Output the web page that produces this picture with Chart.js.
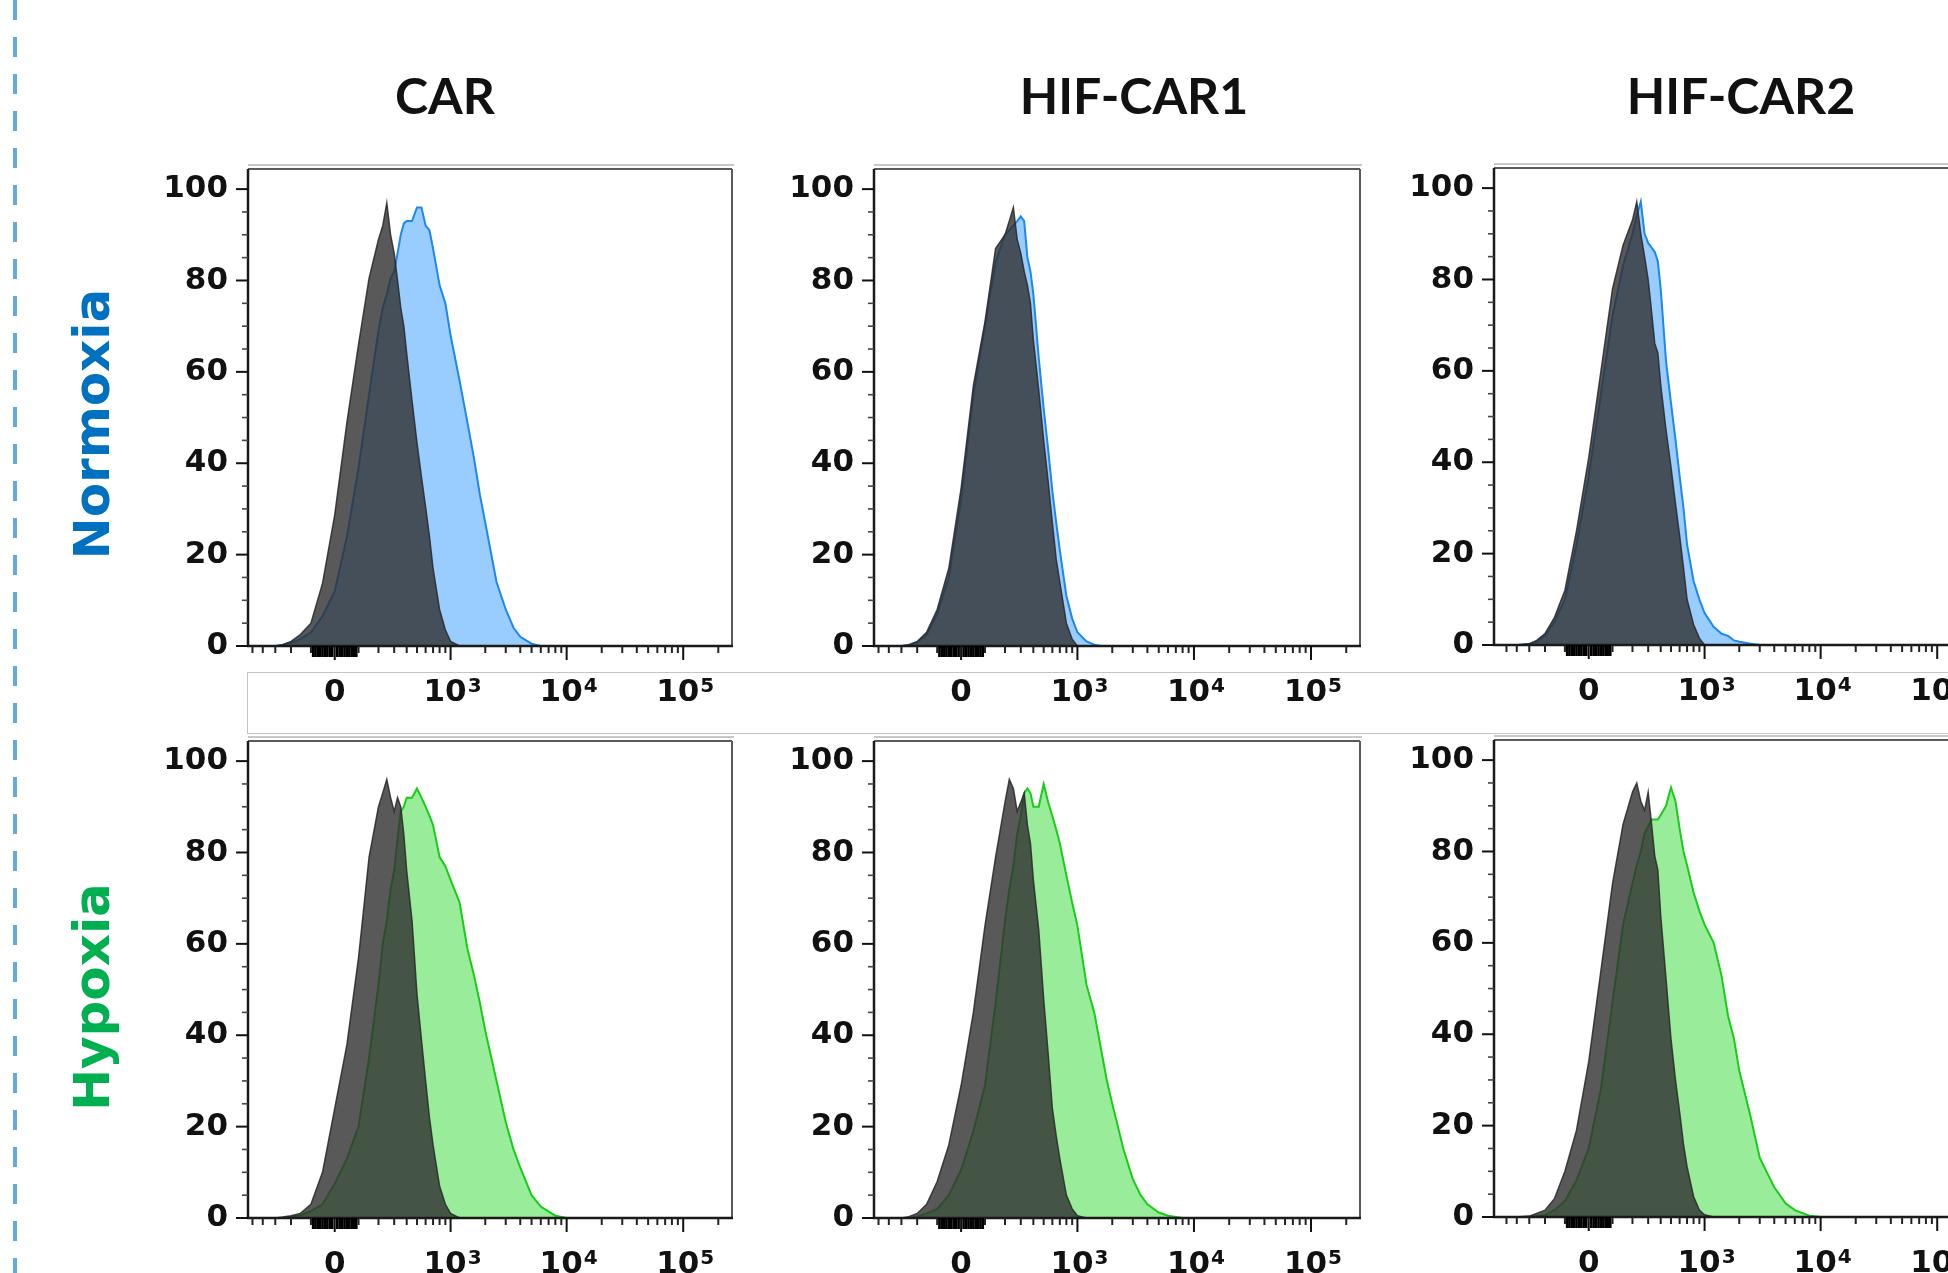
<!DOCTYPE html>
<html>
<head>
<meta charset="utf-8">
<script src="https://cdn.jsdelivr.net/npm/chart.js@4.4.1/dist/chart.umd.min.js"></script>
<style>
html,body{margin:0;padding:0;background:#fff;width:1948px;height:1273px;overflow:hidden;position:relative;}
canvas{position:absolute;}
.title{position:absolute;font-family:Lato,sans-serif;font-weight:700;font-size:50px;line-height:1;white-space:nowrap;color:#111;transform:translateX(-50%);}
.rowlab{position:absolute;font-family:'DejaVu Sans',sans-serif;font-weight:700;font-size:50px;line-height:50px;width:400px;height:50px;text-align:center;white-space:nowrap;transform:rotate(-90deg);}
#dash{position:absolute;left:13px;top:0;width:4px;height:1273px;background:repeating-linear-gradient(to bottom,#62a9df 0px,#62a9df 20px,transparent 20px,transparent 37px);}
#frame{position:absolute;left:247px;top:672px;width:1800px;height:60px;border:1.5px solid #c4c4c4;}
</style>
</head>
<body>
<div id="dash"></div>
<div id="frame"></div>
<div class="title" style="left:445px;top:70px;">CAR</div>
<div class="title" style="left:1134px;top:70px;">HIF-CAR1</div>
<div class="title" style="left:1741px;top:70px;">HIF-CAR2</div>
<div class="rowlab" style="left:-108px;top:399px;color:#0070C0;">Normoxia</div>
<div class="rowlab" style="left:-108px;top:972px;color:#00B050;">Hypoxia</div>

<script>
// ---------------- data ----------------
// histogram bin positions (fluorescence intensity, biexponential display)
const bins = [-600, -500, -400, -300, -250, -200, -150, -100, -50, 0, 50, 100, 150, 200, 225, 250, 275, 300, 325, 350, 375, 400, 450, 500, 550, 600, 650, 700, 800, 900, 1000, 1200, 1400, 1600, 1800, 2000, 2500, 3000, 3500, 4000, 5000, 6000, 8000, 10000, 300000];

// Normoxia (gray = control, blue = stained)
const carNormGray  = [0,0,0,0,0.3,1,2.5,5,13.7,28.7,49,66,80.5,89,92,97,90,86,80,74,70,64,53.6,44.5,37,30.4,24,17,8,3.5,1,0,0,0,0,0,0,0,0,0,0,0,0,0,0];
const carNormBlue  = [0,0,0,0,0.3,0.7,1.5,3,6.5,12,24,39,55,69,74,77,80.5,82,86,90,92.5,93,93,96,96,92,91,87,79,75,68,58,49,41,33,27,14,8,4,2,0.5,0,0,0,0];
const hif1NormGray = [0,0,0,0,0.3,1,3,8,17,34.5,57,71,87,90,93,96,89,86,82,79,75,67,56,45,36,27,19,14,5,1.5,0,0,0,0,0,0,0,0,0,0,0,0,0,0,0];
const hif1NormBlue = [0,0,0,0,0.2,0.8,2.5,7,15,32,55,70,84,90,91,92,93,94,93,85,82,77,63,52,43,34,27,21,11,6,3,1,0.3,0,0,0,0,0,0,0,0,0,0,0,0];
const hif2NormGray = [0,0,0,0.3,1,2.5,6,12,25,41,60,78,87.5,93,97,90,85,80,73,66,64,57,47,39,31,24,17,10,4.5,1.5,0,0,0,0,0,0,0,0,0,0,0,0,0,0,0];
const hif2NormBlue = [0,0,0,0.2,0.7,2,5,10,22,37,55,72,83,90,94,97,90,88,87,86,84,78,62,53,45,37,30,22,14,10,7,4,2.5,2,1,0.7,0.3,0,0,0,0,0,0,0,0];

// Hypoxia (gray = control, green = stained)
const carHypGray   = [0,0,0,0,0.2,0.5,1,3,10,24,38,57,79,90,93,96,92,89,92,90,84,76,65,49,39,30,22,16,7,3,1,0,0,0,0,0,0,0,0,0,0,0,0,0,0];
const carHypGreen  = [0,0,0,0,0,0.2,0.6,1.5,3,7.5,13,20,35,51,60,65,72,76,83,89,90,92,92,94,92,90,88,86,79,77,74,69,59,53,47,41,30,21,15,11,5,2.5,0.5,0,0];
const hif1HypGray  = [0,0,0,0,0.3,1,3,8,16,29,45,64,79,91,96,94,89,91,93,86,82,74,63,48,36,24,18,13,5,2,0.5,0,0,0,0,0,0,0,0,0,0,0,0,0,0];
const hif1HypGreen = [0,0,0,0,0,0.3,1,2,5,10.5,19,29,47,65,72,77,84,88,93,94,93,90,90,95,91,88,85,82,75,69,64,51,45,37,30,25,15,8.5,5,3,1.2,0.5,0,0,0];
const hif2HypGray  = [0,0,0,0.2,0.8,1.5,4,10,19,34,54,73,86,93,95,91,89,93,86,79,76,66,52,39,30,23,16,11,4.5,1.5,0.5,0,0,0,0,0,0,0,0,0,0,0,0,0,0];
const hif2HypGreen = [0,0,0,0,0.2,0.4,1.5,3.5,8,15,28,47,64,73,77,80,84,85.5,87,87,87,88,90,94,91,85,80,77,71,67,64,60,53,44,39,32,22,13,9.5,6.5,3,1.5,0.3,0,0];

// axis ticks
const xTickValues = [0, 1000, 10000, 100000];
const xTickBase   = ['0', '10', '10', '10'];
const xTickExp    = ['', '3', '4', '5'];
const xMinorTicks = [-500,-400,-300,-200,-100,-90,-80,-70,-60,-50,-40,-30,-20,-10,10,20,30,40,50,60,70,80,90,100,200,300,400,500,600,700,800,900,2000,3000,4000,5000,6000,7000,8000,9000,20000,30000,40000,50000,60000,70000,80000,90000,200000];
const yTickValues = [0, 20, 40, 60, 80, 100];
const yMinorTicks = [5,10,15,25,30,35,45,50,55,65,70,75,85,90,95];

// ---------------- biexponential (arcsinh) scale ----------------
const BIEX_W = 205;
const fwd = v => Math.asinh(v / BIEX_W);
class BiexScale extends Chart.LinearScale {
  determineDataLimits() {
    this.min = this.options.min;
    this.max = this.options.max;
  }
  buildTicks() {
    return xTickValues.map(v => ({ value: v }));
  }
  getPixelForValue(value) {
    const t0 = fwd(this.min), t1 = fwd(this.max);
    return this.getPixelForDecimal((fwd(value) - t0) / (t1 - t0));
  }
  getValueForPixel(pixel) {
    const t0 = fwd(this.min), t1 = fwd(this.max);
    const d = this.getDecimalForPixel(pixel);
    return BIEX_W * Math.sinh(t0 + d * (t1 - t0));
  }
}
BiexScale.id = 'biex';
BiexScale.defaults = {};
Chart.register(BiexScale);

const LABEL_FAMILY = '"DejaVu Sans", sans-serif';

// ---------------- frame + tick marks + x labels plugin ----------------
const frameTicks = {
  id: 'frameTicks',
  afterDatasetsDraw(chart) {
    const { ctx, chartArea: a, scales: { x, y } } = chart;
    const ln = (x1, y1, x2, y2) => { ctx.beginPath(); ctx.moveTo(x1, y1); ctx.lineTo(x2, y2); ctx.stroke(); };
    ctx.save();
    // light image-frame line above the plot
    ctx.strokeStyle = '#c8c8c8'; ctx.lineWidth = 2;
    ln(a.left, a.top - 4, a.right + 2, a.top - 4);
    // top & right frame
    ctx.strokeStyle = '#5a5a5a'; ctx.lineWidth = 2;
    ln(a.left, a.top, a.right, a.top);
    ln(a.right, a.top, a.right, a.bottom);
    // axes
    ctx.strokeStyle = '#1a1a1a'; ctx.lineWidth = 2.5;
    ln(a.left, a.top, a.left, a.bottom + 1);
    ln(a.left - 1, a.bottom, a.right + 1, a.bottom);
    // x ticks
    xMinorTicks.forEach(v => {
      const px = x.getPixelForValue(v);
      if (px < a.left - 0.5 || px > a.right + 0.5) return;
      const near = Math.abs(v) < 100;
      ctx.lineWidth = near ? 2.6 : 2;
      ctx.strokeStyle = near ? '#000' : '#222';
      ln(px, a.bottom, px, a.bottom + (near ? 11 : 7));
    });
    ctx.lineWidth = 2; ctx.strokeStyle = '#111';
    xTickValues.forEach(v => {
      const px = x.getPixelForValue(v);
      ln(px, a.bottom, px, a.bottom + 14);
    });
    // y ticks
    yTickValues.forEach(v => { const py = y.getPixelForValue(v); ln(a.left - 12, py, a.left, py); });
    ctx.lineWidth = 1.6; ctx.strokeStyle = '#444';
    yMinorTicks.forEach(v => { const py = y.getPixelForValue(v); ln(a.left - 6, py, a.left, py); });
    // x tick labels with superscript exponents
    ctx.fillStyle = '#111';
    ctx.textBaseline = 'alphabetic';
    ctx.textAlign = 'left';
    const baseY = a.bottom + 55;
    xTickValues.forEach((v, i) => {
      const px = x.getPixelForValue(v);
      ctx.font = 'bold 31px ' + LABEL_FAMILY;
      const wb = ctx.measureText(xTickBase[i]).width;
      ctx.font = 'bold 20px ' + LABEL_FAMILY;
      const we = xTickExp[i] ? ctx.measureText(xTickExp[i]).width + 1 : 0;
      const x0 = px - (wb + we) / 2 + (we ? 2 : 0);
      ctx.font = 'bold 31px ' + LABEL_FAMILY;
      ctx.fillText(xTickBase[i], x0, baseY);
      if (we) {
        ctx.font = 'bold 20px ' + LABEL_FAMILY;
        ctx.fillText(xTickExp[i], x0 + wb + 1, baseY - 9);
      }
    });
    ctx.restore();
  }
};

// ---------------- panels ----------------
const colors = {
  blue:  { line: 'rgb(28,136,238)', fill: 'rgb(153,204,255)' },
  green: { line: 'rgb(24,204,24)',  fill: 'rgb(153,236,153)' }
};
const panels = [
  { L: 248,  T: 169, W: 484, xMin: -550, gray: carNormGray,  test: carNormBlue,  c: 'blue' },
  { L: 874,  T: 169, W: 486, xMin: -550, gray: hif1NormGray, test: hif1NormBlue, c: 'blue' },
  { L: 1494, T: 168, W: 492, xMin: -650, gray: hif2NormGray, test: hif2NormBlue, c: 'blue' },
  { L: 248,  T: 741, W: 484, xMin: -550, gray: carHypGray,   test: carHypGreen,  c: 'green' },
  { L: 874,  T: 741, W: 486, xMin: -550, gray: hif1HypGray,  test: hif1HypGreen, c: 'green' },
  { L: 1494, T: 740, W: 492, xMin: -650, gray: hif2HypGray,  test: hif2HypGreen, c: 'green' }
];
const H = 477, YW = 110, XH = 80, PAD = 14;
const tickFont = { family: 'DejaVu Sans', size: 31, weight: 'bold' };

panels.forEach(p => {
  const cv = document.createElement('canvas');
  cv.width = YW + p.W + PAD;
  cv.height = PAD + H + XH;
  cv.style.left = (p.L - YW) + 'px';
  cv.style.top = (p.T - PAD) + 'px';
  document.body.appendChild(cv);
  const toPts = arr => bins.map((b, i) => ({ x: b, y: arr[i] }));
  new Chart(cv.getContext('2d'), {
    type: 'line',
    data: {
      datasets: [
        { data: toPts(p.gray), borderColor: 'rgba(40,40,40,0.85)', backgroundColor: 'rgba(48,48,48,0.8)',
          borderWidth: 1.5, fill: 'origin', pointRadius: 0, tension: 0 },
        { data: toPts(p.test), borderColor: colors[p.c].line, backgroundColor: colors[p.c].fill,
          borderWidth: 2, fill: 'origin', pointRadius: 0, tension: 0 }
      ]
    },
    options: {
      responsive: false, animation: false, events: [],
      layout: { padding: { top: PAD, right: PAD, left: 0, bottom: 0 } },
      plugins: { legend: { display: false }, tooltip: { enabled: false } },
      scales: {
        x: {
          type: 'biex', position: 'bottom', min: p.xMin, max: 262144,
          grid: { display: false, drawTicks: false }, border: { display: false },
          ticks: { display: false },
          afterFit: s => { s.height = XH; s.paddingLeft = 0; s.paddingRight = 0; }
        },
        y: {
          type: 'linear', min: 0, max: 104.4,
          grid: { display: false, drawTicks: false }, border: { display: false },
          ticks: { font: tickFont, color: '#111', padding: 20, callback: v => String(v) },
          afterBuildTicks: s => { s.ticks = yTickValues.map(v => ({ value: v })); },
          afterFit: s => { s.width = YW; s.paddingTop = 0; s.paddingBottom = 0; }
        }
      }
    },
    plugins: [frameTicks]
  });
});
</script>
</body>
</html>
